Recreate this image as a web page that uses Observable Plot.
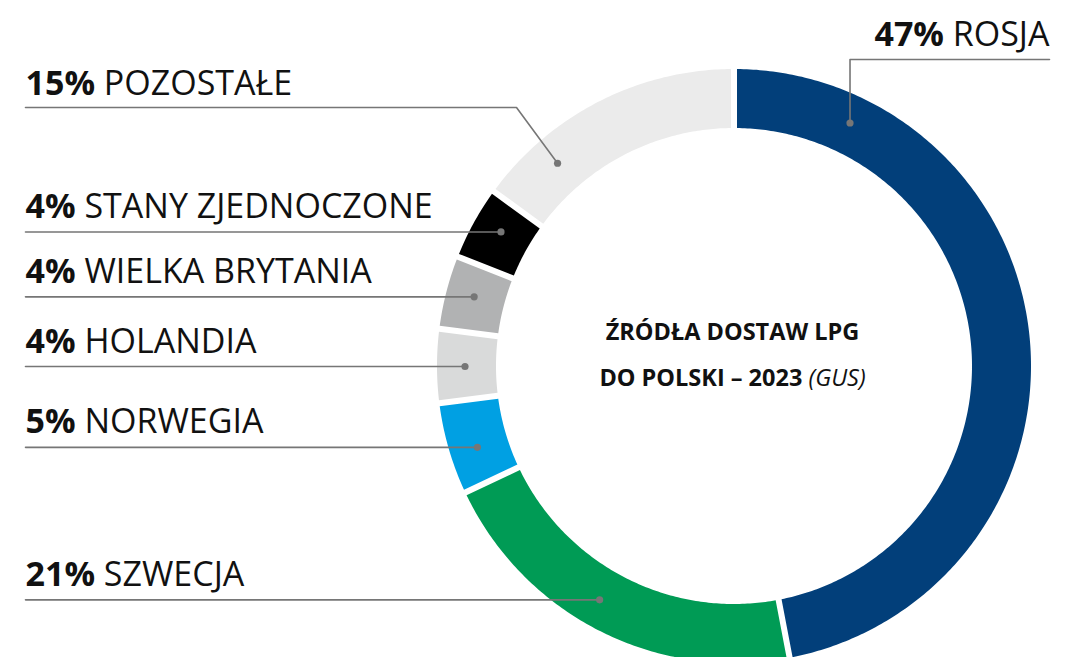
<!DOCTYPE html>
<html>
<head>
<meta charset="utf-8">
<script src="https://cdn.jsdelivr.net/npm/d3@7"></script>
<script src="https://cdn.jsdelivr.net/npm/@observablehq/plot@0.6"></script>
<style>
  html, body { margin: 0; padding: 0; background: #ffffff; }
  #chart svg { display: block; }
</style>
</head>
<body>
<div id="chart"></div>
<script>
// ---------- DATA ----------
const countries = ["ROSJA", "SZWECJA", "NORWEGIA", "HOLANDIA", "WIELKA BRYTANIA", "STANY ZJEDNOCZONE", "POZOSTAŁE"];
const shares    = [47, 21, 5, 4, 4, 4, 15];
const colors    = ["#023f7a", "#009b55", "#00a0e3", "#d9dada", "#b1b2b3", "#000000", "#ebebeb"];
const titleLines = ["ŹRÓDŁA DOSTAW LPG", "DO POLSKI – 2023"];
const titleSource = "(GUS)";

// ---------- LAYOUT ----------
const W = 1071, H = 657;
const CX = 734, CY = 366, R_OUT = 297, R_IN = 238, GAP = 6;
const R_DOT = (R_OUT + R_IN) / 2 + 2;
const anchorFrac = [0.15, 0.54, 0.43, 0.5, 0.54, 0.58, 0.24]; // where along each slice the leader dot sits
const LEFT_X = 25, RIGHT_X = 1049;
const ROSJA_LINE_Y = 59, POZ_LINE_Y = 107, POZ_ELBOW_X = 516;
const LINE_COLOR = "#767676";
const LABEL_SIZE = 34, TITLE_SIZE = 23.5;

// ---------- GEOMETRY FROM DATA ----------
const total = d3.sum(shares);
let cum = 0;
const slices = countries.map((name, i) => {
  const a0 = cum / total * 2 * Math.PI;
  cum += shares[i];
  const a1 = cum / total * 2 * Math.PI;
  return {name, share: shares[i], a0, a1, i};
});

const arcPts = slices.flatMap(s => {
  const n = Math.max(10, Math.ceil((s.a1 - s.a0) * 90));
  const pts = [];
  for (let k = 0; k <= n; k++) {
    const t = k / n;
    const ai = s.a0 + GAP / 2 / R_IN + t * ((s.a1 - s.a0) - GAP / R_IN);
    const ao = s.a0 + GAP / 2 / R_OUT + t * ((s.a1 - s.a0) - GAP / R_OUT);
    pts.push({
      name: s.name,
      xi: CX + R_IN * Math.sin(ai), yi: CY - R_IN * Math.cos(ai),
      xo: CX + R_OUT * Math.sin(ao), yo: CY - R_OUT * Math.cos(ao)
    });
  }
  return pts;
});

const dots = slices.map((s, i) => {
  const a = s.a0 + anchorFrac[i] * (s.a1 - s.a0);
  return {name: s.name, share: s.share, x: CX + R_DOT * Math.sin(a), y: CY - R_DOT * Math.cos(a)};
});

// leader lines and label positions
const leader = [];
const labels = [];
dots.forEach((d, i) => {
  if (i === 0) {
    leader.push({k: i, x: RIGHT_X, y: ROSJA_LINE_Y}, {k: i, x: d.x, y: ROSJA_LINE_Y}, {k: i, x: d.x, y: d.y});
    labels.push({text: `${d.share}% ${d.name}`, x: RIGHT_X, y: ROSJA_LINE_Y - 14, anchor: "end"});
  } else if (d.name === "POZOSTAŁE") {
    leader.push({k: i, x: LEFT_X, y: POZ_LINE_Y}, {k: i, x: POZ_ELBOW_X, y: POZ_LINE_Y}, {k: i, x: d.x, y: d.y});
    labels.push({text: `${d.share}% ${d.name}`, x: LEFT_X, y: POZ_LINE_Y - 13, anchor: "start"});
  } else {
    leader.push({k: i, x: LEFT_X, y: d.y}, {k: i, x: d.x, y: d.y});
    labels.push({text: `${d.share}% ${d.name}`, x: LEFT_X, y: d.y - 14, anchor: "start"});
  }
});

const titleData = [
  {text: titleLines[0], x: CX - 2, y: 339},
  {text: titleLines[1] + " " + titleSource, x: CX - 2, y: 385}
];

// ---------- PLOT ----------
const chart = Plot.plot({
  width: W, height: H,
  margin: 0,
  x: {domain: [0, W], range: [0, W], axis: null},
  y: {domain: [0, H], range: [0, H], axis: null},
  color: {domain: countries, range: colors},
  style: {fontFamily: "'Open Sans', sans-serif", background: "#ffffff", color: "#111"},
  marks: [
    Plot.area(arcPts, {x1: "xi", y1: "yi", x2: "xo", y2: "yo", z: "name", fill: "name"}),
    Plot.line(leader, {x: "x", y: "y", z: "k", stroke: LINE_COLOR, strokeWidth: 1.6}),
    Plot.dot(dots, {x: "x", y: "y", r: 3.6, fill: LINE_COLOR, stroke: null}),
    Plot.text(labels.filter(d => d.anchor === "start"), {x: "x", y: "y", text: "text", textAnchor: "start", lineAnchor: "bottom", fontSize: LABEL_SIZE, fill: "#111"}),
    Plot.text(labels.filter(d => d.anchor === "end"), {x: "x", y: "y", text: "text", textAnchor: "end", lineAnchor: "bottom", fontSize: LABEL_SIZE, fill: "#111"}),
    Plot.text(titleData, {x: "x", y: "y", text: "text", textAnchor: "middle", lineAnchor: "bottom", fontSize: TITLE_SIZE, fontWeight: "bold", fill: "#111"})
  ]
});

// mixed-style text: bold percentage + regular name; italic source in title
const svg = d3.select(chart);
svg.selectAll("text").each(function() {
  const el = d3.select(this);
  const t = el.text();
  if (t.endsWith(titleSource)) {
    el.text(null);
    el.append("tspan").text(t.slice(0, t.length - titleSource.length));
    el.append("tspan").attr("font-weight", "normal").attr("font-style", "italic").text(titleSource);
  } else if (/^\d+%\s/.test(t)) {
    const idx = t.indexOf(" ");
    el.text(null);
    el.append("tspan").attr("font-weight", "bold").text(t.slice(0, idx));
    el.append("tspan").attr("font-weight", "normal").text(t.slice(idx));
  }
});

document.getElementById("chart").appendChild(chart);
</script>
</body>
</html>
